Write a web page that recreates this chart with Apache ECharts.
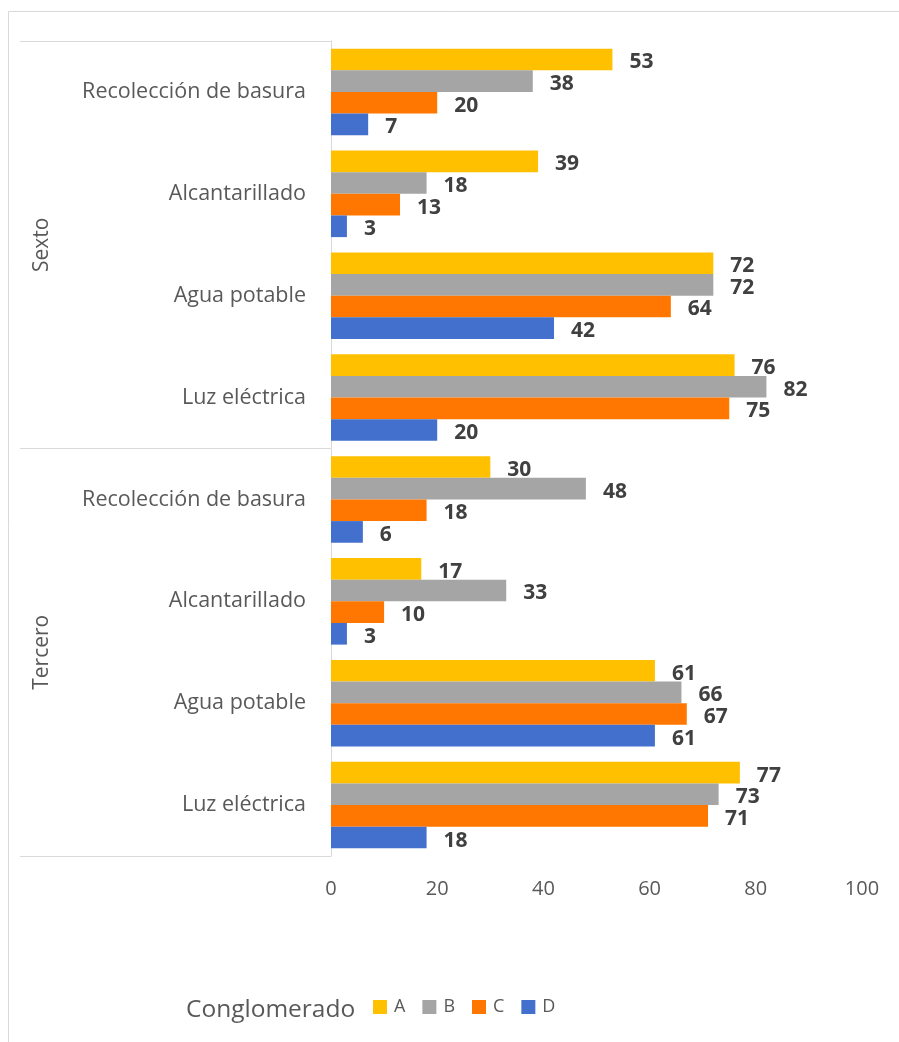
<!DOCTYPE html>
<html><head><meta charset="utf-8">
<script src="https://cdn.jsdelivr.net/npm/echarts@6/dist/echarts.min.js"></script>
<style>html,body{margin:0;padding:0;background:#fff}#c{width:899px;height:1042px}</style>
</head><body><div id="c"></div>
<script>
const categories = ['Recolección de basura','Alcantarillado','Agua potable','Luz eléctrica','Recolección de basura','Alcantarillado','Agua potable','Luz eléctrica'];
const groups = ['Sexto','Tercero'];
const seriesNames = ['A','B','C','D'];
const valuesA = [53,39,72,76,30,17,61,77];
const valuesB = [38,18,72,82,48,33,66,73];
const valuesC = [20,13,64,75,18,10,67,71];
const valuesD = [7,3,42,20,6,3,61,18];
const xTicks = [0,20,40,60,80,100];
const colors = ['#FFC000','#A5A5A5','#FF7700','#4270CC'];
const FONT = 'Open Sans';
const chart = echarts.init(document.getElementById('c'));
const vals = [valuesA, valuesB, valuesC, valuesD];
chart.setOption({
  animation:false,
  textStyle:{fontFamily:FONT},
  graphic:[{type:'rect',shape:{x:8.5,y:11.5,width:1000,height:1100},style:{fill:'none',stroke:'#d9d9d9',lineWidth:1}}],
  title:{text:'Conglomerado',left:186,top:998,padding:0,textStyle:{fontFamily:FONT,fontSize:24.5,fontWeight:'normal',color:'#595959'}},
  legend:{data:seriesNames,left:373,top:998,padding:0,itemWidth:14,itemHeight:14,itemGap:17,icon:'rect',
    textStyle:{fontFamily:FONT,fontSize:18,color:'#595959',padding:[0,0,0,2]}},
  grid:{left:331,right:37,top:41,bottom:186,containLabel:false},
  xAxis:{type:'value',min:xTicks[0],max:xTicks[xTicks.length-1],interval:20,
    splitLine:{show:false},axisLine:{show:false},axisTick:{show:false},
    axisLabel:{margin:23,fontFamily:FONT,fontSize:20,color:'#595959'}},
  yAxis:[
    {type:'category',data:categories,inverse:true,
      axisLine:{show:true,lineStyle:{color:'#d9d9d9'}},axisTick:{show:false},
      axisLabel:{margin:25,fontFamily:FONT,fontSize:21.5,color:'#595959',padding:[3,0,0,0]}},
    {type:'category',data:groups,inverse:true,position:'left',
      axisLine:{show:false},
      axisTick:{show:true,length:311,lineStyle:{color:'#d9d9d9'}},
      axisLabel:{rotate:90,margin:278,fontFamily:FONT,fontSize:21,color:'#595959'}}
  ],
  series: seriesNames.map((n,i)=>({
    name:n,type:'bar',data:vals[i],yAxisIndex:0,
    barGap:'0%',barCategoryGap:'15%',
    itemStyle:{color:colors[i]},
    label:{show:true,position:'right',distance:17,offset:[0,3],fontFamily:FONT,fontSize:21,fontWeight:'bold',color:'#404040'}
  }))
});
</script></body></html>
